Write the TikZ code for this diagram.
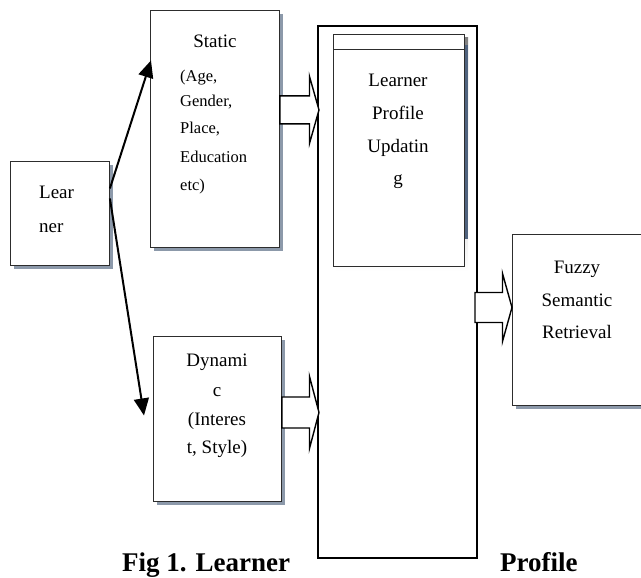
\documentclass[tikz,border=0pt]{standalone}
\usepackage{fontspec}
\setmainfont{Liberation Serif}
\usetikzlibrary{arrows.meta,calc,shadows}

\definecolor{shade}{RGB}{140,153,170}
\definecolor{shadedark}{RGB}{80,99,126}
\definecolor{edge}{RGB}{45,45,45}

\newcommand\mainsize{\fontsize{19}{19}\selectfont}
\newcommand\smallsize{\fontsize{16.5}{16.5}\selectfont}
\newcommand\capsize{\fontsize{27}{27}\selectfont\bfseries}

% wide hollow arrow: #1 = tail point, #2 = tip point, #3/#4 = shaft/head half heights
\newcommand\hollowarrow[4]{%
  \draw[fatarrow] let \p1=(#1), \p2=(#2) in
    ({\x1},{\y1+#3}) -- ({\x2-9.5pt},{\y1+#3}) -- ({\x2-9.5pt},{\y1+#4})
    -- ({\x2},{\y1}) -- ({\x2-9.5pt},{\y1-#4}) -- ({\x2-9.5pt},{\y1-#3})
    -- ({\x1},{\y1-#3}) -- cycle;}

\begin{document}
\begin{tikzpicture}[x=1pt,y=-1pt,
  box/.style={draw=edge,line width=0.9pt,fill=white,anchor=north west,inner sep=0pt,
    drop shadow={shadow xshift=3.5pt,shadow yshift=-4pt,opacity=1,fill=shade}},
  plainbox/.style={draw=edge,line width=0.9pt,fill=white,anchor=north west,inner sep=0pt},
  frame/.style={draw=black,line width=2pt,anchor=north west,inner sep=0pt},
  label/.style={inner sep=0pt,anchor=base,font=\mainsize},
  detail/.style={inner sep=0pt,anchor=base west,font=\smallsize},
  link/.style={line width=2pt,-{Triangle[length=17pt,width=15pt]}},
  fatarrow/.style={draw=black,line width=1.4pt,fill=white,line join=miter}]

\useasboundingbox (0,0) rectangle (641,578);

% boxes
\node[box,minimum width=99pt,minimum height=104pt] (learner) at (10,161) {};
\node[box,minimum width=129pt,minimum height=237pt] (static) at (150,10) {};
\node[box,minimum width=128pt,minimum height=165pt] (dynamic) at (153,336) {};
\node[box,minimum width=135pt,minimum height=171pt] (fuzzy) at (512,234) {};

% profile updating block with its header strip
\fill[shade] (336,38) rectangle (468,271);
\fill[shadedark] (464,45) rectangle (468,239);
\node[plainbox,minimum width=131pt,minimum height=232pt] (lpu) at (333,34) {};
\draw[edge,line width=0.9pt] ($(lpu.north west)+(0,15)$) coordinate (hl) -- (hl -| lpu.east);

% outer frame
\node[frame,minimum width=159pt,minimum height=532pt] (big) at (317,25) {};

% texts
\node[label,anchor=base west] (t1) at (39,199) {Lear};
\node[label,anchor=base west] (t2) at (39,232) {ner};

\node[label] (s0) at (215,48) {Static};
\node[detail] (s1) at (180,82) {(Age,};
\node[detail] (s2) at (180,107) {Gender,};
\node[detail] (s3) at (180,133.5) {Place,};
\node[detail] (s4) at (180,162) {Education};
\node[detail] (s5) at (180,190.5) {etc)};

\node[label] (p1) at (398,87) {Learner};
\node[label] (p2) at (398,120) {Profile};
\node[label] (p3) at (398,153) {Updatin};
\node[label] (p4) at (398,184) {g};

\node[label] (d1) at (217,366.5) {Dynami};
\node[label] (d2) at (217,396) {c};
\node[label] (d3) at (217,425) {(Interes};
\node[label] (d4) at (217,453) {t, Style)};

\node[label] (f1) at (577,273) {Fuzzy};
\node[label] (f2) at (577,306) {Semantic};
\node[label] (f3) at (577,338) {Retrieval};

\node[inner sep=0pt,anchor=base west,font=\capsize] (c1) at (122,571) {Fig 1. Learner};
\node[inner sep=0pt,anchor=base west,font=\capsize] (c2) at (500,571) {Profile};

% learner to static / dynamic
\draw[link] ([yshift=25pt]learner.east) -- ([xshift=1pt,yshift=68.5pt]static.west);
\draw[link] ([yshift=15pt]learner.east) -- ([xshift=-9pt,yshift=3.5pt]dynamic.west);

% hollow arrows into and out of the frame
\coordinate (a1) at ([yshift=19pt]static.east);
\coordinate (a2) at ([yshift=6.5pt]dynamic.east);
\coordinate (a3) at ([yshift=12.5pt]fuzzy.west);
\hollowarrow{a1}{$(big.west |- a1)+(2,0)$}{14pt}{33.5pt}
\hollowarrow{a2}{$(big.west |- a2)+(2,0)$}{15.5pt}{36pt}
\hollowarrow{$(big.east |- a3)+(-3,0)$}{a3}{15pt}{34pt}

\end{tikzpicture}
\end{document}
